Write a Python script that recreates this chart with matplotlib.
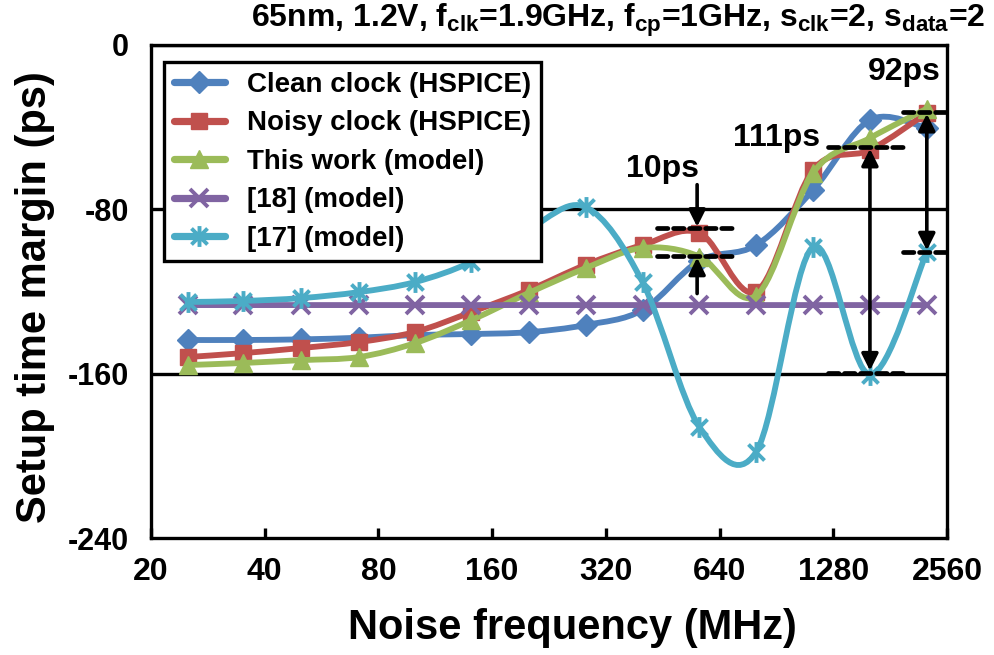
import numpy as np
import matplotlib
matplotlib.use("Agg")
import matplotlib.pyplot as plt
from matplotlib.path import Path
from matplotlib.patches import PathPatch
from matplotlib.lines import Line2D

plt.rcParams['font.family'] = ['Liberation Sans', 'DejaVu Sans']
plt.rcParams['font.weight'] = 'bold'
plt.rcParams['mathtext.fontset'] = 'custom'
plt.rcParams['mathtext.rm'] = 'Liberation Sans:bold'
plt.rcParams['mathtext.it'] = 'Liberation Sans:bold'
plt.rcParams['mathtext.bf'] = 'Liberation Sans:bold'

# noise frequency (MHz), half-octave steps
freq_mhz = [25, 35, 50, 71, 100, 141, 200, 283, 400, 566, 800, 1131, 1600, 2263]

# setup time margin (ps)
clean_hspice = [-143.6, -143.6, -143.3, -142.5, -141.2, -140.7, -139.8, -136.3,
                -129.0, -105.0, -97.4, -70.6, -36.5, -40.4]
noisy_hspice = [-151.9, -150.0, -147.5, -144.6, -139.7, -130.0, -119.3, -107.0,
                -97.4, -91.5, -120.0, -60.9, -51.1, -33.1]
this_work = [-155.8, -154.8, -153.4, -151.9, -145.1, -133.9, -120.7, -108.6,
             -98.8, -103.0, -122.0, -62.3, -45.3, -31.0]
ref18 = [-126.6, -126.6, -126.6, -126.6, -126.6, -126.6, -126.6, -126.6,
         -126.6, -126.6, -126.6, -126.6, -126.6, -126.6]
ref17 = [-125.1, -124.6, -123.2, -120.3, -115.4, -105.6, -89.6, -78.9,
         -115.4, -186.0, -198.0, -98.3, -160.6, -100.8]

series_names = ["Clean clock (HSPICE)", "Noisy clock (HSPICE)", "This work (model)",
                "[18] (model)", "[17] (model)"]

xticks = [20, 40, 80, 160, 320, 640, 1280, 2560]
yticks = [0, -80, -160, -240]

# excel-like star marker: x plus vertical bar
star = Path([(-1, -1), (1, 1), (-1, 1), (1, -1), (0, -1.3), (0, 1.3)],
            [Path.MOVETO, Path.LINETO, Path.MOVETO, Path.LINETO, Path.MOVETO, Path.LINETO])

styles = [
    dict(color="#4F81BD", marker="D", ms=11),
    dict(color="#C0504D", marker="s", ms=12),
    dict(color="#9BBB59", marker="^", ms=13),
    dict(color="#8064A2", marker="x", ms=13, mew=2.8),
    dict(color="#4BACC6", marker=star, ms=15, mew=2.8),
]


def smooth_path(x, y):
    # Catmull-Rom bezier through the points, built in log2(x) space
    u = np.log2(np.asarray(x, float))
    v = np.asarray(y, float)
    p = np.column_stack([u, v])
    n = len(p)
    verts = [p[0]]
    codes = [Path.MOVETO]
    for i in range(n - 1):
        p0 = p[i - 1] if i > 0 else p[i]
        p3 = p[i + 2] if i + 2 < n else p[i + 1]
        c1 = p[i] + (p[i + 1] - p0) / 6.0
        c2 = p[i + 1] - (p3 - p[i]) / 6.0
        verts += [c1, c2, p[i + 1]]
        codes += [Path.CURVE4] * 3
    verts = np.array(verts)
    verts[:, 0] = 2 ** verts[:, 0]
    return Path(verts, codes)


fig = plt.figure(figsize=(9.95, 6.55), dpi=100)
ax = fig.add_axes([0.1518, 0.1786, 0.800, 0.7527])

ax.set_xscale("log", base=2)
ax.set_xlim(20, 2560)
ax.set_ylim(-240, 0)

for yg in [-80, -160, 0]:
    ax.axhline(yg, color="black", lw=2.4, zorder=1)

lw = 4.2
handles = []
for name, vals, st in zip(series_names, [clean_hspice, noisy_hspice, this_work, ref18, ref17], styles):
    patch = PathPatch(smooth_path(freq_mhz, vals), fill=False, edgecolor=st["color"],
                      lw=lw, capstyle="round", joinstyle="round", zorder=3)
    ax.add_patch(patch)
    ax.plot(freq_mhz, vals, linestyle="none", marker=st["marker"], ms=st["ms"],
            color=st["color"], mew=st.get("mew", 1), zorder=3)
    handles.append(Line2D([], [], color=st["color"], lw=lw + 1, marker=st["marker"],
                          ms=st["ms"], mew=st.get("mew", 1), solid_capstyle="round"))

# annotations
dash = dict(color="black", lw=3.4, linestyle=(0, (2.2, 1.2)), dash_capstyle="round", zorder=5)
ax.plot([437, 690], [-89.1, -89.1], **dash)
ax.plot([437, 690], [-102.7, -102.7], **dash)
ax.plot([1240, 1959], [-49.7, -49.7], **dash)
ax.plot([1240, 1959], [-159.5, -159.5], **dash)
ax.plot([1959, 2540], [-32.6, -32.6], **dash)
ax.plot([1959, 2540], [-100.8, -100.8], **dash)

arr = dict(arrowstyle="-|>", color="black", lw=2.6, mutation_scale=25, shrinkA=0, shrinkB=0)
darr = dict(arrowstyle="<|-|>", color="black", lw=2.6, mutation_scale=25, shrinkA=0, shrinkB=0)
ax.annotate("", xy=(558, -88.5), xytext=(558, -68.0), arrowprops=arr, zorder=6)
ax.annotate("", xy=(558, -103.5), xytext=(558, -121.0), arrowprops=arr, zorder=6)
ax.annotate("", xy=(1600, -50.5), xytext=(1600, -158.5), arrowprops=darr, zorder=6)
ax.annotate("", xy=(2263, -33.5), xytext=(2263, -100.0), arrowprops=darr, zorder=6)

ax.text(451, -60.5, "10ps", fontsize=23, fontweight="bold", ha="center", va="center", zorder=7)
ax.text(905, -45.5, "111ps", fontsize=23, fontweight="bold", ha="center", va="center", zorder=7)
ax.text(1971, -13.0, "92ps", fontsize=23, fontweight="bold", ha="center", va="center", zorder=7)

ax.set_xticks(xticks)
ax.set_xticklabels([str(t) for t in xticks])
ax.minorticks_off()
ax.set_yticks(yticks)
ax.set_yticklabels([str(t) for t in yticks])
ax.tick_params(axis="x", direction="in", length=7, width=2.4, pad=14, labelsize=23)
ax.tick_params(axis="y", length=0, pad=16, labelsize=22)
for lab in ax.get_xticklabels() + ax.get_yticklabels():
    lab.set_fontweight("bold")
for sp in ax.spines.values():
    sp.set_linewidth(2.4)

ax.set_xlabel("Noise frequency (MHz)", fontsize=30, fontweight="bold")
ax.xaxis.label.set_va("center")
ax.xaxis.set_label_coords(0.529, -0.183)
ax.set_ylabel("Setup time margin (ps)", fontsize=30, fontweight="bold")
ax.yaxis.label.set_va("center")
ax.yaxis.set_label_coords(-0.146, 0.489)

leg = ax.legend(handles, series_names, loc="upper left", bbox_to_anchor=(0.0163, 0.9655),
                borderaxespad=0, frameon=True, fancybox=False,
                handlelength=1.85, handletextpad=0.8, borderpad=0.35, labelspacing=0.45,
                prop=dict(weight="bold", size=20))
leg.get_frame().set_edgecolor("black")
leg.get_frame().set_linewidth(2.4)
leg.get_frame().set_alpha(1)
leg.set_zorder(8)

fig.text(0.99, 0.969,
         r"65nm, 1.2V, $f_{clk}$=1.9GHz, $f_{cp}$=1GHz, $s_{clk}$=2, $s_{data}$=2",
         fontsize=23, fontweight="bold", ha="right", va="center")

fig.savefig("out.png", dpi=100)
